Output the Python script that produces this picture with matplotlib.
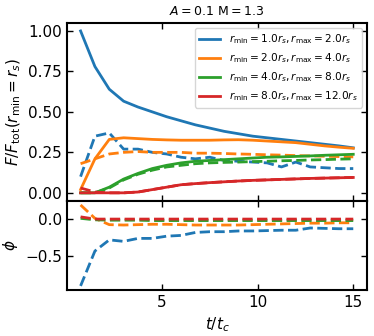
import numpy as np
import matplotlib
matplotlib.use('Agg')
import matplotlib.pyplot as plt

# 時間 (t/t_c)
t = np.arange(1, 21) * 0.75

labels = [r'$r_{\rm min}=1.0r_s, r_{\rm max}=2.0r_s$',
          r'$r_{\rm min}=2.0r_s, r_{\rm max}=4.0r_s$',
          r'$r_{\rm min}=4.0r_s, r_{\rm max}=8.0r_s$',
          r'$r_{\rm min}=8.0r_s, r_{\rm max}=12.0r_s$']
colors = ['#1f77b4', '#ff7f0e', '#2ca02c', '#d62728']

# 実線 (F/F_tot)
f_solid_1 = [1.00, 0.78, 0.64, 0.566, 0.53, 0.50, 0.47, 0.445, 0.42, 0.40,
             0.38, 0.365, 0.35, 0.34, 0.33, 0.32, 0.31, 0.30, 0.29, 0.278]
f_solid_2 = [0.02, 0.21, 0.33, 0.34, 0.335, 0.33, 0.327, 0.325, 0.325, 0.325,
             0.327, 0.328, 0.325, 0.32, 0.315, 0.31, 0.30, 0.29, 0.282, 0.275]
f_solid_3 = [0.0, 0.0, 0.035, 0.085, 0.12, 0.15, 0.17, 0.185, 0.195, 0.20,
             0.205, 0.21, 0.215, 0.22, 0.222, 0.225, 0.228, 0.232, 0.235, 0.238]
f_solid_4 = [0.0, 0.0, 0.0, 0.0, 0.005, 0.02, 0.035, 0.05, 0.057, 0.063,
             0.068, 0.073, 0.077, 0.08, 0.083, 0.086, 0.089, 0.091, 0.093, 0.095]

# 破線 (F/F_tot)
f_dash_1 = [0.10, 0.35, 0.37, 0.27, 0.27, 0.25, 0.24, 0.22, 0.21, 0.22,
            0.20, 0.195, 0.19, 0.185, 0.16, 0.19, 0.16, 0.155, 0.15, 0.15]
f_dash_2 = [0.18, 0.21, 0.24, 0.25, 0.255, 0.25, 0.25, 0.25, 0.245, 0.245,
            0.243, 0.24, 0.238, 0.235, 0.233, 0.23, 0.228, 0.226, 0.224, 0.222]
f_dash_3 = [0.0, 0.0, 0.03, 0.08, 0.115, 0.14, 0.16, 0.17, 0.18, 0.185,
            0.188, 0.19, 0.193, 0.195, 0.198, 0.2, 0.203, 0.205, 0.208, 0.21]
f_dash_4 = [0.03, 0.005, 0.0, 0.0, 0.005, 0.02, 0.035, 0.05, 0.057, 0.063,
            0.068, 0.073, 0.077, 0.08, 0.083, 0.086, 0.089, 0.091, 0.093, 0.095]

# phi
phi_1 = [-0.90, -0.43, -0.28, -0.30, -0.26, -0.26, -0.23, -0.22, -0.18, -0.17,
         -0.17, -0.16, -0.16, -0.155, -0.15, -0.15, -0.12, -0.125, -0.13, -0.13]
phi_2 = [0.19, 0.01, -0.075, -0.08, -0.075, -0.07, -0.07, -0.075, -0.08, -0.08,
         -0.08, -0.08, -0.075, -0.07, -0.065, -0.06, -0.055, -0.055, -0.05, -0.05]
phi_3 = [0.01, -0.01, -0.015, -0.015, -0.015, -0.02, -0.02, -0.02, -0.02, -0.02,
         -0.02, -0.02, -0.02, -0.02, -0.02, -0.02, -0.02, -0.02, -0.02, -0.02]
phi_4 = [0.03, 0.0, 0.0, 0.0, 0.0, 0.0, 0.0, 0.0, 0.0, 0.0,
         0.0, 0.0, 0.0, 0.0, 0.0, 0.0, 0.0, 0.0, 0.0, 0.0]

solids = [f_solid_1, f_solid_2, f_solid_3, f_solid_4]
dashes = [f_dash_1, f_dash_2, f_dash_3, f_dash_4]
phis = [phi_1, phi_2, phi_3, phi_4]

fig, (ax1, ax2) = plt.subplots(2, 1, sharex=True, figsize=(3.74, 3.36), dpi=100,
                               gridspec_kw={'height_ratios': [2, 1], 'hspace': 0})
fig.subplots_adjust(left=0.179, right=0.981, top=0.932, bottom=0.137)

for i in range(4):
    ax1.plot(t, solids[i], color=colors[i], lw=2, label=labels[i])
    ax1.plot(t, dashes[i], color=colors[i], lw=2, ls='--')
    ax2.plot(t, phis[i], color=colors[i], lw=2, ls='--')

ax1.set_title(r'$A=0.1$ M$=1.3$', fontsize=9)
ax1.set_ylabel(r'$F/F_{\rm tot}(r_{\rm min}=r_s)$', fontsize=11)
ax1.set_yticks([0, 0.25, 0.5, 0.75, 1.0])
ax1.set_yticklabels(['0.00', '0.25', '0.50', '0.75', '1.00'])
ax1.legend(loc='upper right', fontsize=7.6, handlelength=2.0)

ax2.set_ylabel(r'$\phi$', fontsize=11)
ax2.set_xlabel(r'$t/t_c$', fontsize=11)
ax2.set_yticks([0.0, -0.5])
ax2.set_xticks([5, 10, 15])

for ax in (ax1, ax2):
    ax.tick_params(direction='in', top=True, right=True, labelsize=11, width=1, length=4)
    for s in ax.spines.values():
        s.set_linewidth(1.5)

plt.savefig('out.png', dpi=100)
